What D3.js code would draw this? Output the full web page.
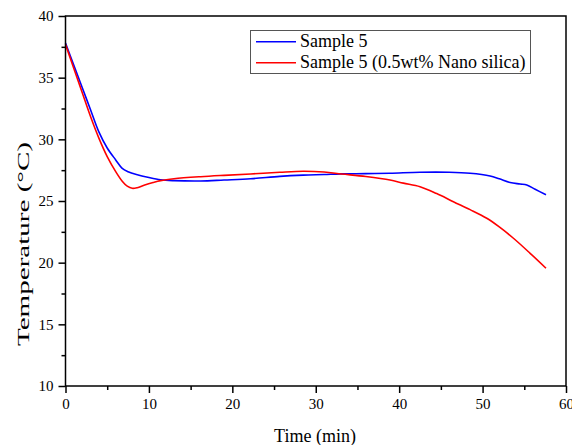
<!DOCTYPE html>
<html><head><meta charset="utf-8">
<script src="https://cdn.jsdelivr.net/npm/d3@7"></script>
<style>body{margin:0;background:#fff}svg{display:block}</style>
</head><body>
<svg id="chart" width="572" height="445"></svg>
<script>
const xTicks = [0, 10, 20, 30, 40, 50, 60];
const yTicks = [10, 15, 20, 25, 30, 35, 40];
const seriesNames = ["Sample 5", "Sample 5 (0.5wt% Nano silica)"];
const seriesColors = ["#0000ff", "#ff0000"];

const blueTime = [0, 1, 2, 3, 4, 5, 6, 6.8, 7.5, 8.5, 10, 11.4, 13, 16.2, 19, 22.2, 25.7, 28.5, 31, 33, 36, 38.9, 42.5, 46, 48.5, 50.9, 52, 53.3, 54.5, 55.3, 56.3, 57.6];
const blueTemp = [37.8, 36.0, 34.2, 32.4, 30.6, 29.3, 28.35, 27.65, 27.38, 27.15, 26.9, 26.72, 26.65, 26.62, 26.7, 26.8, 27.0, 27.1, 27.15, 27.2, 27.22, 27.25, 27.33, 27.33, 27.25, 27.03, 26.8, 26.5, 26.38, 26.3, 25.95, 25.5];

const redTime = [0, 1, 2, 3, 4, 5, 6, 6.8, 7.4, 8.0, 8.6, 9.5, 10.5, 11.4, 13, 16.2, 19, 22.2, 25.7, 28.5, 31, 33.1, 36, 38.9, 40.5, 42.5, 44.5, 46.5, 48.5, 50.5, 52, 53.7, 55.7, 57.6];
const redTemp = [37.7, 35.75, 33.8, 31.85, 30.1, 28.6, 27.4, 26.6, 26.2, 26.03, 26.08, 26.3, 26.5, 26.65, 26.8, 26.97, 27.08, 27.19, 27.33, 27.41, 27.35, 27.19, 26.98, 26.7, 26.45, 26.16, 25.6, 24.94, 24.3, 23.6, 22.9, 21.98, 20.76, 19.55];

const svg = d3.select("#chart");
const L = 65.5, R = 566, T = 16, B = 386;
const x = d3.scaleLinear().domain([0, 60]).range([L, R]);
const y = d3.scaleLinear().domain([10, 40]).range([B, T]);
const font = "'Liberation Serif','Times New Roman',serif";

// curves
const series = [
  {t: blueTime, v: blueTemp},
  {t: redTime, v: redTemp}
];
const line = d3.line().x(d => x(d[0])).y(d => y(d[1])).curve(d3.curveCatmullRom.alpha(0.5));
series.forEach((s, i) => {
  svg.append("path")
    .attr("d", line(s.t.map((t, j) => [t, s.v[j]])))
    .attr("fill", "none").attr("stroke", seriesColors[i]).attr("stroke-width", 1.6);
});

// frame
svg.append("rect").attr("x", L).attr("y", T).attr("width", R - L).attr("height", B - T)
  .attr("fill", "none").attr("stroke", "#000").attr("stroke-width", 1.5);

// x axis
const xAxis = d3.axisBottom(x).tickValues(xTicks).tickSize(7).tickSizeOuter(0).tickPadding(5).tickFormat(d3.format("d"));
const gx = svg.append("g").attr("transform", `translate(0,${B})`).call(xAxis);
gx.select(".domain").remove();
gx.selectAll("line").attr("stroke-width", 1.5);
gx.selectAll("text").attr("font-family", font).attr("font-size", 15).attr("fill", "#000");
const xMinor = d3.axisBottom(x).tickValues([5, 15, 25, 35, 45, 55]).tickSize(4).tickFormat("");
const gxm = svg.append("g").attr("transform", `translate(0,${B})`).call(xMinor);
gxm.select(".domain").remove();
gxm.selectAll("line").attr("stroke-width", 1.5);

// y axis
const yAxis = d3.axisLeft(y).tickValues(yTicks).tickSize(7).tickSizeOuter(0).tickPadding(5).tickFormat(d3.format("d"));
const gy = svg.append("g").attr("transform", `translate(${L},0)`).call(yAxis);
gy.select(".domain").remove();
gy.selectAll("line").attr("stroke-width", 1.5);
gy.selectAll("text").attr("font-family", font).attr("font-size", 15).attr("fill", "#000");
const yMinor = d3.axisLeft(y).tickValues([12.5, 17.5, 22.5, 27.5, 32.5, 37.5]).tickSize(4).tickFormat("");
const gym = svg.append("g").attr("transform", `translate(${L},0)`).call(yMinor);
gym.select(".domain").remove();
gym.selectAll("line").attr("stroke-width", 1.5);

// axis titles
svg.append("text").attr("x", 315).attr("y", 442).attr("text-anchor", "middle")
  .attr("font-family", font).attr("font-size", 18).text("Time (min)");
svg.append("text").attr("transform", "translate(29,244) rotate(-90)")
  .attr("text-anchor", "middle").attr("font-family", font).attr("font-size", 17)
  .attr("textLength", 204).attr("lengthAdjust", "spacingAndGlyphs")
  .text("Temperature (°C)");

// legend
const lg = svg.append("g");
lg.append("rect").attr("x", 250.5).attr("y", 30.5).attr("width", 280).attr("height", 43)
  .attr("fill", "#fff").attr("stroke", "#555").attr("stroke-width", 1);
seriesNames.forEach((n, i) => {
  const yy = 41.7 + i * 21;
  lg.append("line").attr("x1", 256).attr("x2", 296).attr("y1", yy).attr("y2", yy)
    .attr("stroke", seriesColors[i]).attr("stroke-width", 1.6);
  lg.append("text").attr("x", 300).attr("y", yy + 5.5).attr("font-family", font)
    .attr("font-size", 18).text(n);
});
</script>
</body></html>
